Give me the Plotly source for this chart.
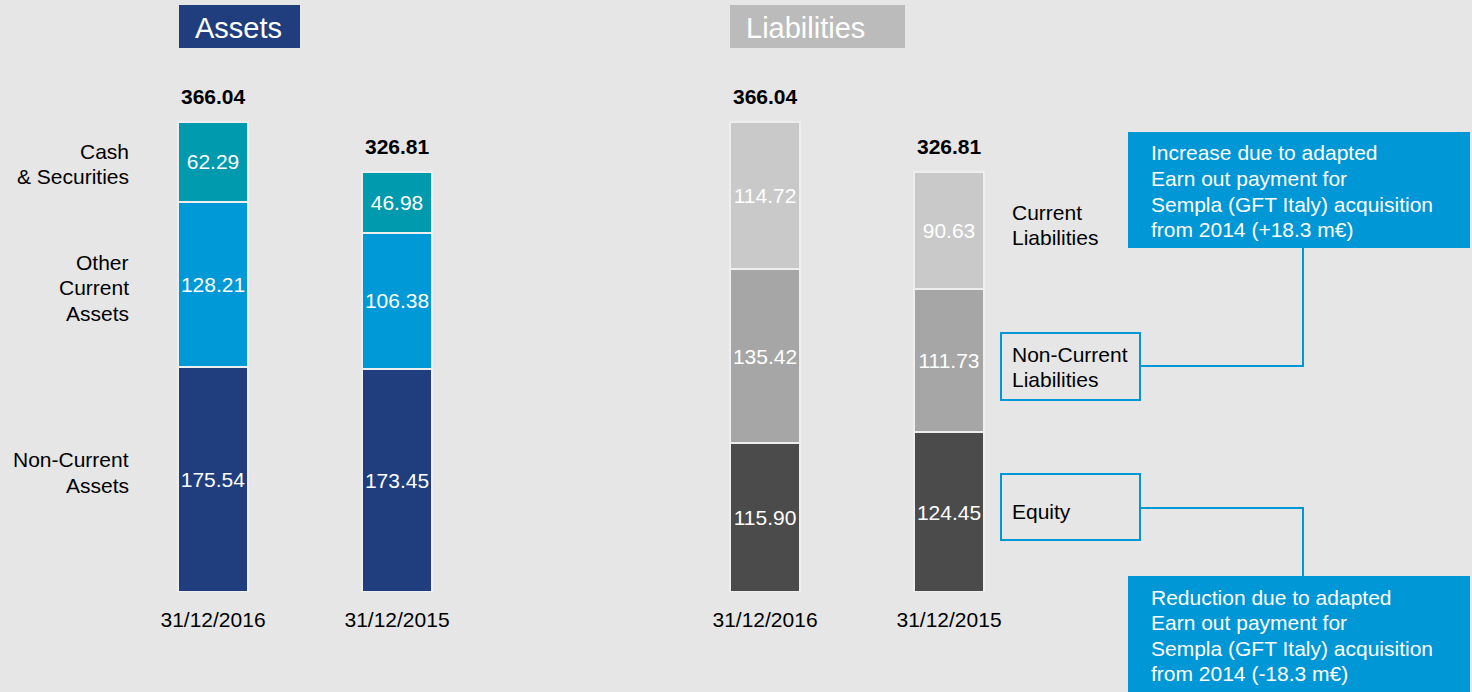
import plotly.graph_objects as go

# ---------------- data ----------------
dates = ["31/12/2016", "31/12/2015"]
asset_x = [0, 1]
liab_x = [3, 4]

non_current_assets = [175.54, 173.45]
other_current_assets = [128.21, 106.38]
cash_securities = [62.29, 46.98]
asset_totals = [366.04, 326.81]

equity = [115.90, 124.45]
non_current_liabilities = [135.42, 111.73]
current_liabilities = [114.72, 90.63]
liab_totals = [366.04, 326.81]

label_cash = ["Cash", "& Securities"]
label_other = ["Other", "Current", "Assets"]
label_nca = ["Non-Current", "Assets"]
label_cl = ["Current", "Liabilities"]
label_ncl = ["Non-Current", "Liabilities"]
label_eq = ["Equity"]

note_increase = ["Increase due to adapted", "Earn out payment for",
                 "Sempla (GFT Italy) acquisition", "from 2014 (+18.3 m€)"]
note_reduction = ["Reduction due to adapted", "Earn out payment for",
                  "Sempla (GFT Italy) acquisition", "from 2014 (-18.3 m€)"]

# ---------------- styling ----------------
W, H = 1472, 692
FONT = "Liberation Sans, Arial, sans-serif"
BG = "#e6e6e6"
NAVY = "#203e7d"
BLUE = "#0099d8"
TEAL = "#009aaf"
LG = "#c9c9c9"
MG = "#a6a6a6"
DG = "#4b4b4b"
CALLOUT = "#0097d7"
BAR_W = 0.38
LS = 25.5  # line spacing in px

def X(px):
    return px / W

def Y(py):
    return 1 - py / H

fig = go.Figure()

def add_seg(x, vals, color, name):
    fig.add_trace(go.Bar(
        x=x, y=vals, width=BAR_W, name=name,
        marker=dict(color=color, line=dict(color="#eeeeee", width=2)),
        text=[f"{v:.2f}" for v in vals], textposition="inside",
        insidetextanchor="middle", textangle=0, constraintext="none",
        textfont=dict(color="white", size=21, family=FONT),
        hoverinfo="skip",
    ))

add_seg(asset_x, non_current_assets, NAVY, "Non-Current Assets")
add_seg(asset_x, other_current_assets, BLUE, "Other Current Assets")
add_seg(asset_x, cash_securities, TEAL, "Cash & Securities")
add_seg(liab_x, equity, DG, "Equity")
add_seg(liab_x, non_current_liabilities, MG, "Non-Current Liabilities")
add_seg(liab_x, current_liabilities, LG, "Current Liabilities")

annotations = []
# totals
for xs, tots in ((asset_x, asset_totals), (liab_x, liab_totals)):
    for x, t in zip(xs, tots):
        annotations.append(dict(x=x, y=t, xref="x", yref="y", text=f"<b>{t:.2f}</b>",
                                showarrow=False, yanchor="bottom", yshift=12,
                                font=dict(size=21, color="black", family=FONT)))

def add_lines(lines, x_px, y0_px, anchor, color="black", size=21):
    for i, line in enumerate(lines):
        annotations.append(dict(x=X(x_px), y=Y(y0_px + i * LS), xref="paper", yref="paper",
                                text=line, showarrow=False, xanchor=anchor, yanchor="middle",
                                align=anchor, font=dict(size=size, color=color, family=FONT)))

add_lines(label_cash, 131, 151, "right")
add_lines(label_other, 131, 262, "right")
add_lines(label_nca, 131, 460, "right")
add_lines(label_cl, 1010, 212, "left")
add_lines(label_ncl, 1010, 354, "left")
add_lines(label_eq, 1010, 511, "left")
add_lines(note_increase, 1149, 153, "left", color="white")
add_lines(note_reduction, 1149, 597, "left", color="white")

# titles
annotations.append(dict(x=X(193), y=Y(28), xref="paper", yref="paper", text="Assets",
                        showarrow=False, xanchor="left", yanchor="middle",
                        font=dict(size=29, color="white", family=FONT)))
annotations.append(dict(x=X(744), y=Y(28), xref="paper", yref="paper", text="Liabilities",
                        showarrow=False, xanchor="left", yanchor="middle",
                        font=dict(size=29, color="white", family=FONT)))

shapes = [
    dict(type="rect", xref="paper", yref="paper", x0=X(179), x1=X(300), y0=Y(48), y1=Y(5),
         fillcolor=NAVY, line=dict(width=0), layer="below"),
    dict(type="rect", xref="paper", yref="paper", x0=X(730), x1=X(905), y0=Y(48), y1=Y(5),
         fillcolor="#bbbbbb", line=dict(width=0), layer="below"),
    dict(type="rect", xref="paper", yref="paper", x0=X(1128), x1=X(1470), y0=Y(248), y1=Y(132),
         fillcolor=CALLOUT, line=dict(width=0)),
    dict(type="rect", xref="paper", yref="paper", x0=X(1128), x1=X(1470), y0=Y(692), y1=Y(576),
         fillcolor=CALLOUT, line=dict(width=0)),
    dict(type="rect", xref="paper", yref="paper", x0=X(1001), x1=X(1140), y0=Y(400), y1=Y(333),
         line=dict(color=CALLOUT, width=2)),
    dict(type="rect", xref="paper", yref="paper", x0=X(1001), x1=X(1140), y0=Y(540), y1=Y(474),
         line=dict(color=CALLOUT, width=2)),
    dict(type="path", xref="paper", yref="paper",
         path=f"M {X(1303)},{Y(248)} L {X(1303)},{Y(366)} L {X(1140)},{Y(366)}",
         line=dict(color=CALLOUT, width=2)),
    dict(type="path", xref="paper", yref="paper",
         path=f"M {X(1140)},{Y(508)} L {X(1303)},{Y(508)} L {X(1303)},{Y(576)}",
         line=dict(color=CALLOUT, width=2)),
]

scale = 470 / asset_totals[0]
fig.update_layout(
    width=W, height=H, margin=dict(l=0, r=0, t=0, b=0),
    paper_bgcolor=BG, plot_bgcolor=BG, barmode="stack", showlegend=False,
    font=dict(family=FONT, color="black"),
    annotations=annotations, shapes=shapes,
    xaxis=dict(range=[-213 / 184, (W - 213) / 184], tickvals=asset_x + liab_x,
               ticktext=dates + dates, showgrid=False, zeroline=False, showline=False,
               ticks="", tickfont=dict(size=21, color="black", family=FONT),
               ticklabelstandoff=13, fixedrange=True),
    yaxis=dict(domain=[(H - 592) / H, 1], range=[0, 592 / scale], visible=False,
               showgrid=False, zeroline=False, fixedrange=True),
)

fig.write_html("out.html", config={"displayModeBar": False},
               post_script="document.body.style.margin='0px';")
